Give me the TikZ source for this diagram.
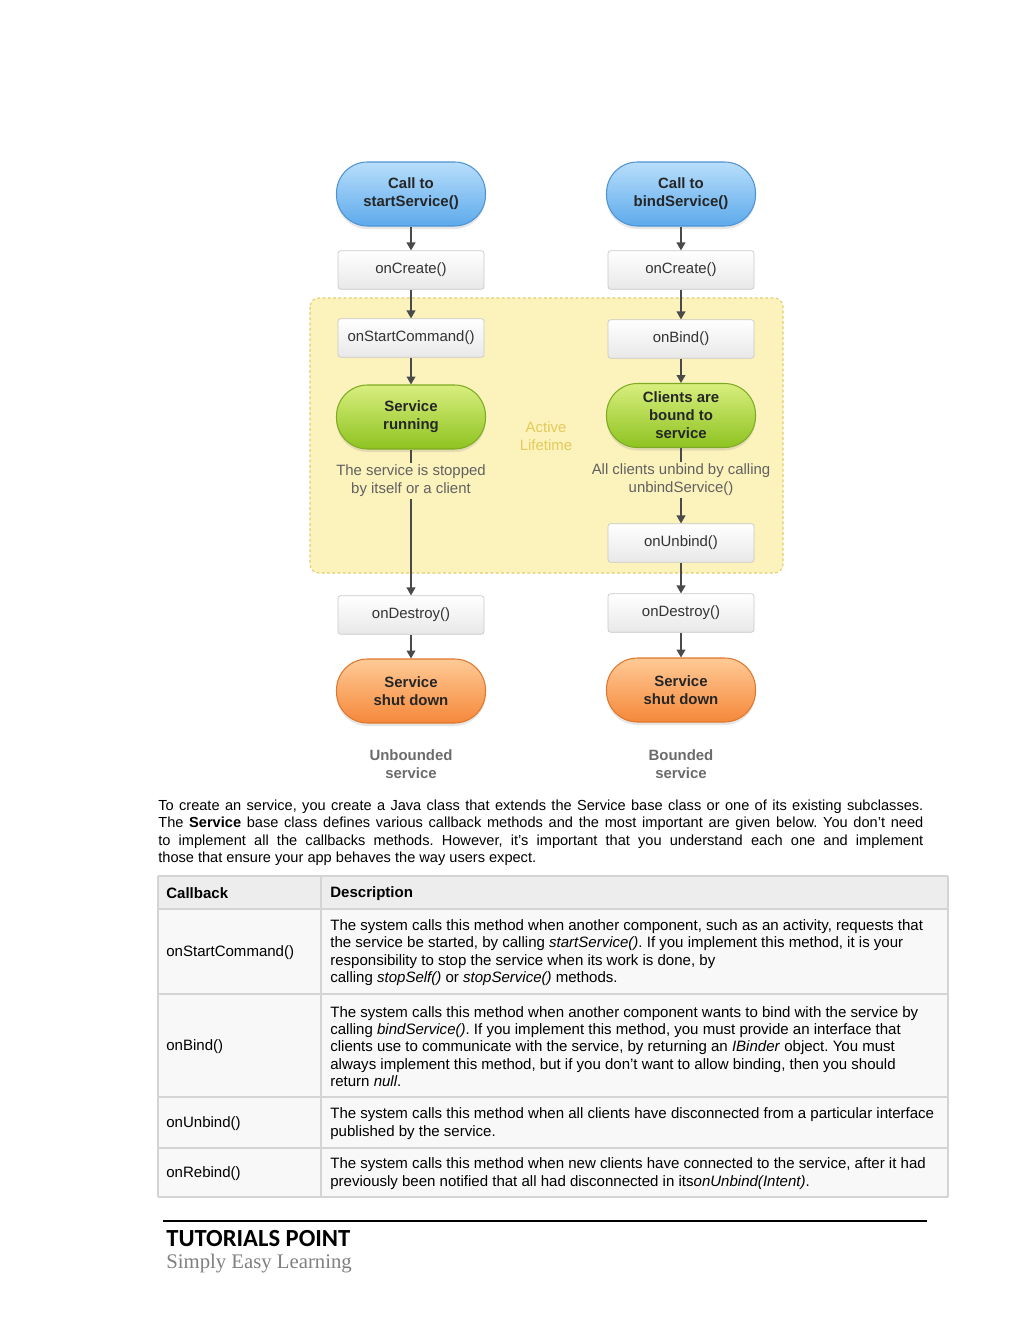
\documentclass[tikz,border=0pt]{standalone}
\usepackage{fontspec}
\setmainfont{Liberation Sans}
\newfontfamily\footfont{Carlito}
\newfontfamily\sloganfont{Liberation Serif}
\usetikzlibrary{arrows.meta,shadows}
\frenchspacing

\definecolor{bluetop}{HTML}{B8DEFB}
\definecolor{bluebot}{HTML}{5DAAEC}
\definecolor{blueedge}{HTML}{4E93D2}
\definecolor{greentop}{HTML}{D8EE7E}
\definecolor{greenbot}{HTML}{8EC320}
\definecolor{greenedge}{HTML}{7DAB22}
\definecolor{orangetop}{HTML}{FFCA96}
\definecolor{orangebot}{HTML}{F5883A}
\definecolor{orangeedge}{HTML}{DE772C}
\definecolor{boxedge}{HTML}{C9C9C9}
\definecolor{boxbot}{HTML}{E8E8E8}
\definecolor{lifefill}{HTML}{FCF2BC}
\definecolor{lifeedge}{HTML}{E2CC6C}
\definecolor{lifetext}{HTML}{E3CB5A}
\definecolor{arrowgray}{HTML}{4A4A4A}
\definecolor{textgray}{HTML}{333333}
\definecolor{headfill}{HTML}{EDEDED}
\definecolor{rowfill}{HTML}{F8F8F8}
\definecolor{rulegray}{HTML}{D4D4D4}

\begin{document}
\begin{tikzpicture}[
    every node/.style={font=\fontsize{8.5}{10.2}\selectfont, text=textgray},
    pill/.style={rectangle, rounded corners=0.62cm, line width=0.6pt, minimum width=2.98cm, minimum height=1.28cm,
        align=center, font=\fontsize{8.5}{10.2}\selectfont\bfseries, text=black!85,
        drop shadow={opacity=0.2, shadow xshift=0pt, shadow yshift=-0.06cm}},
    callpill/.style={pill, draw=blueedge, top color=bluetop, bottom color=bluebot},
    runpill/.style={pill, draw=greenedge, top color=greentop, bottom color=greenbot},
    downpill/.style={pill, draw=orangeedge, top color=orangetop, bottom color=orangebot},
    methodbox/.style={rectangle, rounded corners=1.5pt, draw=boxedge, top color=white, bottom color=boxbot,
        minimum width=2.92cm, minimum height=0.77cm},
    stoptext/.style={align=center, text=black!62, inner sep=1pt},
    kindtext/.style={align=center, font=\fontsize{8.5}{10.2}\selectfont\bfseries, text=black!58},
    flow/.style={-{Triangle[width=5pt,length=4.5pt]}, line width=0.7pt, draw=arrowgray},
    tick/.style={line width=0.7pt, draw=arrowgray},
    lifetime/.style={rounded corners=5pt, fill=lifefill, draw=lifeedge, dash pattern=on 1.6pt off 1.4pt, line width=0.6pt},
    bodytext/.style={font=\fontsize{8.3}{9.92}\selectfont, text=black, inner sep=0pt},
    celltext/.style={font=\fontsize{8.55}{9.87}\selectfont, text=black, inner sep=0pt, align=left, anchor=west},
    tablerule/.style={draw=rulegray, line width=0.9pt}
]
    \useasboundingbox (0,0) rectangle (20.48,-26.5);

    % Active lifetime area
    \draw[lifetime] (6.2,-5.96) rectangle (15.66,-11.46);
    \node[text=lifetext, align=center] (active) at (10.92,-8.72) {Active\\Lifetime};

    % Unbounded service
    \node[callpill] (startcall) at (8.22,-3.88) {Call to\\startService()};
    \node[methodbox] (createL) at (8.22,-5.40) {onCreate()};
    \node[methodbox] (startcmd) at (8.22,-6.76) {onStartCommand()};
    \node[runpill] (running) at (8.22,-8.34) {Service\\running};
    \node[stoptext] (stopped) at (8.22,-9.62) {The service is stopped\\by itself or a client};
    \node[methodbox] (destroyL) at (8.22,-12.30) {onDestroy()};
    \node[downpill] (shutL) at (8.22,-13.82) {Service\\shut down};
    \node[kindtext] (unbounded) at (8.22,-15.28) {Unbounded\\service};

    % Bounded service
    \node[callpill] (bindcall) at (13.62,-3.88) {Call to\\bindService()};
    \node[methodbox] (createR) at (13.62,-5.40) {onCreate()};
    \node[methodbox] (onbind) at (13.62,-6.78) {onBind()};
    \node[runpill] (bound) at (13.62,-8.31) {Clients are\\bound to\\service};
    \node[stoptext] (unbindall) at (13.62,-9.60) {All clients unbind by calling\\unbindService()};
    \node[methodbox] (onunbind) at (13.62,-10.86) {onUnbind()};
    \node[methodbox] (destroyR) at (13.62,-12.26) {onDestroy()};
    \node[downpill] (shutR) at (13.62,-13.80) {Service\\shut down};
    \node[kindtext] (bounded) at (13.62,-15.28) {Bounded\\service};

    % Arrows
    \draw[flow] (startcall) -- (createL);
    \draw[flow] (createL) -- (startcmd);
    \draw[flow] (startcmd) -- (running);
    \draw[tick] (running.south) -- (stopped.north);
    \draw[flow] (stopped) -- (destroyL);
    \draw[flow] (destroyL) -- (shutL);
    \draw[flow] (bindcall) -- (createR);
    \draw[flow] (createR) -- (onbind);
    \draw[flow] (onbind) -- (bound);
    \draw[tick] (bound.south) -- (unbindall.north);
    \draw[flow] (unbindall) -- (onunbind);
    \draw[flow] (onunbind) -- (destroyR);
    \draw[flow] (destroyR) -- (shutR);

    % Intro paragraph
    \node[bodytext, anchor=north west, text width=15.3cm, align=justify] (intro) at (3.16,-15.99)
        {To create an service, you create a Java class that extends the Service base class or one of its existing subclasses.\linebreak
        The \textbf{Service} base class defines various callback methods and the most important are given below. You don't need\linebreak
        to implement all the callbacks methods. However, it's important that you understand each one and implement\linebreak
        those that ensure your app behaves the way users expect.};

    % Callback table
    \fill[headfill] (3.16,-17.52) rectangle (18.96,-18.18);
    \fill[rowfill] (3.16,-18.18) rectangle (18.96,-23.94);
    \foreach \y in {-17.52,-18.18,-19.88,-21.94,-22.96,-23.94} {
        \draw[tablerule] (3.16,\y) -- (18.96,\y);
    }
    \foreach \x in {3.16,6.42,18.96} {
        \draw[tablerule] (\x,-17.52) -- (\x,-23.94);
    }
    \node[celltext, font=\fontsize{8.55}{9.87}\selectfont\bfseries] (headcb) at (3.32,-17.87) {Callback};
    \node[celltext, font=\fontsize{8.55}{9.87}\selectfont\bfseries] (headdesc) at (6.6,-17.87) {Description};

    \node[celltext] (cbstart) at (3.32,-19.05) {onStartCommand()};
    \node[celltext] (descstart) at (6.6,-19.05)
        {The system calls this method when another component, such as an activity, requests that\\
        the service be started, by calling \textit{startService()}. If you implement this method, it is your\\
        responsibility to stop the service when its work is done, by\\
        calling \textit{stopSelf()} or \textit{stopService()} methods.};

    \node[celltext] (cbbind) at (3.32,-20.93) {onBind()};
    \node[celltext] (descbind) at (6.6,-20.93)
        {The system calls this method when another component wants to bind with the service by\\
        calling \textit{bindService()}. If you implement this method, you must provide an interface that\\
        clients use to communicate with the service, by returning an \textit{IBinder} object. You must\\
        always implement this method, but if you don't want to allow binding, then you should\\
        return \textit{null}.};

    \node[celltext] (cbunbind) at (3.32,-22.47) {onUnbind()};
    \node[celltext] (descunbind) at (6.6,-22.47)
        {The system calls this method when all clients have disconnected from a particular interface\\
        published by the service.};

    \node[celltext] (cbrebind) at (3.32,-23.47) {onRebind()};
    \node[celltext] (descrebind) at (6.6,-23.47)
        {The system calls this method when new clients have connected to the service, after it had\\
        previously been notified that all had disconnected in its\textit{onUnbind(Intent)}.};

    % Footer
    \draw[line width=1pt] (3.26,-24.42) -- (18.54,-24.42);
    \node[anchor=west, inner sep=0pt, text=black, font=\footfont\fontsize{14}{16}\selectfont\bfseries] (brand) at (3.32,-24.78) {TUTORIALS POINT};
    \node[anchor=west, inner sep=0pt, text=black!50, font=\sloganfont\fontsize{11.8}{14}\selectfont] (slogan) at (3.32,-25.27) {Simply Easy Learning};
\end{tikzpicture}
\end{document}
